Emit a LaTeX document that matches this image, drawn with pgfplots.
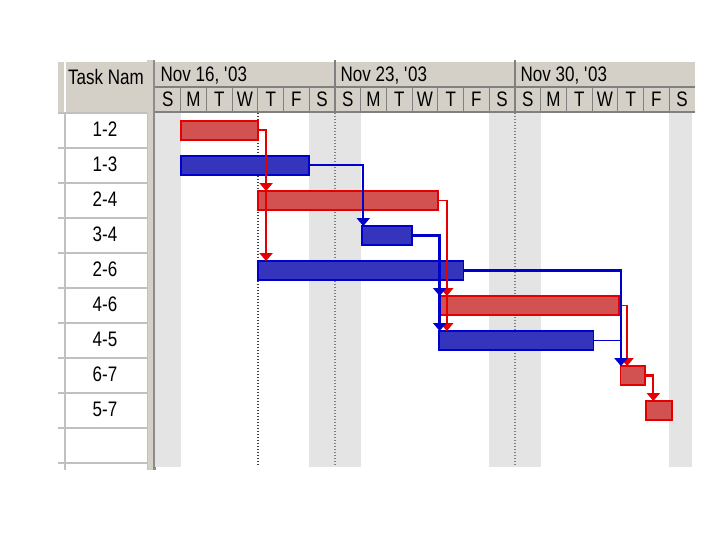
\documentclass[border=0pt]{standalone}
\usepackage{pgfplots}
\pgfplotsset{compat=1.18}
\usepackage{fontspec}
\setmainfont{Liberation Sans}[FakeStretch=0.81]
\usetikzlibrary{arrows.meta}
\definecolor{hdr}{RGB}{212,208,200}
\definecolor{hdrline}{RGB}{128,128,128}
\definecolor{tblline}{RGB}{192,192,192}
\definecolor{splitdark}{RGB}{140,140,140}
\definecolor{critfill}{RGB}{210,82,82}
\definecolor{critline}{RGB}{228,0,0}
\definecolor{normfill}{RGB}{52,52,188}
\definecolor{normline}{RGB}{0,0,204}
\definecolor{wkend}{RGB}{228,228,228}
\tikzset{
  tip/.style={-{Triangle[width=13pt,length=8pt]}},
  crit/.style={draw=critline, fill=critfill, line width=1.8pt},
  norm/.style={draw=normline, fill=normfill, line width=1.8pt},
}
\begin{document}
\begin{tikzpicture}
\fontsize{21}{24}\selectfont
\path[use as bounding box, fill=white] (0,0) rectangle (720pt,540pt);
\begin{scope}[yshift=540pt,x=1pt,y=-1pt]
  % left table
  \fill[hdr] (58,60) rectangle (147,113);
  \draw[white,line width=1.2pt] (58,61) -- (147,61);
  \draw[white,line width=1.2pt] (65,61) -- (65,112);
  \node[anchor=base west,inner sep=0] at (68,85) {Task Nam};
  \foreach \y in {113,148,183,218,253,288,323,358,393,428,463}
    \draw[tblline,line width=2pt] (58,\y) -- (147,\y);
  \draw[tblline,line width=1.2pt] (65,113) -- (65,470);
  \fill[hdr] (147,60) rectangle (155,470);
  \fill[splitdark] (152.5,60) rectangle (155.5,470);
  \draw[tblline] (147,113) -- (147,470);
  % gantt header
  \fill[hdr] (155,60) rectangle (695,113);
  \draw[white,line width=1.2pt] (155,61) -- (695,61);
  \draw[hdrline,line width=1.2pt] (155,87) -- (695,87);
  \draw[hdrline,line width=2pt] (155,112.5) -- (695,112.5);
  \foreach \d in {1,...,20}
    \draw[hdrline,line width=1.2pt] ({155+25.714*\d},87) -- ({155+25.714*\d},113);
  \foreach \x in {335,515}
    \draw[hdrline,line width=1.5pt] (\x,60) -- (\x,113);
  \node[anchor=base west,inner sep=0] at (160.5,82) {Nov 16, \textquotesingle03};
  \node[anchor=base west,inner sep=0] at (340.5,82) {Nov 23, \textquotesingle03};
  \node[anchor=base west,inner sep=0] at (520.5,82) {Nov 30, \textquotesingle03};
\end{scope}
\begin{axis}[
  at={(155pt,73pt)}, anchor=south west,
  scale only axis, width=540pt, height=354pt,
  xmin=0, xmax=21, ymin=-10.614, ymax=-0.5,
  axis line style={draw=none},
  tick style={draw=none}, major tick length=0pt,
  xtick={0.5,1.5,...,20.5},
  xticklabels={S,M,T,W,T,F,S,S,M,T,W,T,F,S,S,M,T,W,T,F,S},
  xticklabel pos=upper,
  xticklabel style={anchor=base, yshift=6pt, inner sep=0pt},
  ytick={-1,-2,-3,-4,-5,-6,-7,-8,-9},
  yticklabels={1-2,1-3,2-4,3-4,2-6,4-6,4-5,6-7,5-7},
  yticklabel style={anchor=base, xshift=-50pt, yshift=-6pt, inner sep=0pt},
  tick label style={font=\fontsize{21}{24}\selectfont},
  clip=false,
]
% non-working days
\addplot[draw=none, fill=wkend] coordinates {(0,-0.5) (1,-0.5) (1,-10.614) (0,-10.614)} -- cycle;
\addplot[draw=none, fill=wkend] coordinates {(6,-0.5) (8,-0.5) (8,-10.614) (6,-10.614)} -- cycle;
\addplot[draw=none, fill=wkend] coordinates {(13,-0.5) (15,-0.5) (15,-10.614) (13,-10.614)} -- cycle;
\addplot[draw=none, fill=wkend] coordinates {(20,-0.5) (20.9,-0.5) (20.9,-10.614) (20,-10.614)} -- cycle;
\addplot[gray, line width=2pt, dash pattern=on 1.5pt off 1.5pt] coordinates {(7,-0.5) (7,-10.614)};
\addplot[gray, line width=2pt, dash pattern=on 1.5pt off 1.5pt] coordinates {(14,-0.5) (14,-10.614)};
\addplot[darkgray, line width=1.5pt, dash pattern=on 1.5pt off 1.5pt] coordinates {(4,-0.5) (4,-10.614)};
% task bars
\addplot[crit] coordinates {(1,-0.73) (4,-0.73) (4,-1.27) (1,-1.27)} -- cycle;
\addplot[norm] coordinates {(1,-1.73) (6,-1.73) (6,-2.27) (1,-2.27)} -- cycle;
\addplot[crit] coordinates {(4,-2.73) (11,-2.73) (11,-3.27) (4,-3.27)} -- cycle;
\addplot[norm] coordinates {(8.05,-3.73) (10,-3.73) (10,-4.27) (8.05,-4.27)} -- cycle;
\addplot[norm] coordinates {(4,-4.73) (12,-4.73) (12,-5.27) (4,-5.27)} -- cycle;
\addplot[crit] coordinates {(11.05,-5.73) (18.05,-5.73) (18.05,-6.27) (11.05,-6.27)} -- cycle;
\addplot[norm] coordinates {(11.05,-6.73) (17.05,-6.73) (17.05,-7.27) (11.05,-7.27)} -- cycle;
\addplot[crit] coordinates {(18.1,-7.73) (19.05,-7.73) (19.05,-8.27) (18.1,-8.27)} -- cycle;
\addplot[crit] coordinates {(19.1,-8.73) (20.1,-8.73) (20.1,-9.27) (19.1,-9.27)} -- cycle;
% links
\addplot[critline, line width=2pt, tip] coordinates {(4,-1) (4.32,-1) (4.32,-4.73)};
\addplot[critline, line width=2pt, tip] coordinates {(4.32,-2.4) (4.32,-2.73)};
\addplot[normline, line width=2pt, tip] coordinates {(6,-2) (8.1,-2) (8.1,-3.73)};
\addplot[critline, line width=1.4pt, tip] coordinates {(11,-3) (11.35,-3) (11.35,-6.73)};
\addplot[critline, line width=1.4pt, tip] coordinates {(11.35,-5.4) (11.35,-5.73)};
\addplot[normline, line width=2.5pt, tip] coordinates {(10,-4) (11.07,-4) (11.07,-6.73)};
\addplot[normline, line width=2.5pt, tip] coordinates {(11.07,-5.4) (11.07,-5.73)};
\addplot[critline, line width=1.4pt, tip] coordinates {(18.05,-6) (18.36,-6) (18.36,-7.73)};
\addplot[normline, line width=2.2pt, tip] coordinates {(12,-5) (18.12,-5) (18.12,-7.73)};
\addplot[normline, line width=1.4pt] coordinates {(17.05,-7) (18.12,-7)};
\addplot[critline, line width=2.2pt, tip] coordinates {(19.05,-8) (19.38,-8) (19.38,-8.73)};
\end{axis}
\end{tikzpicture}
\end{document}
